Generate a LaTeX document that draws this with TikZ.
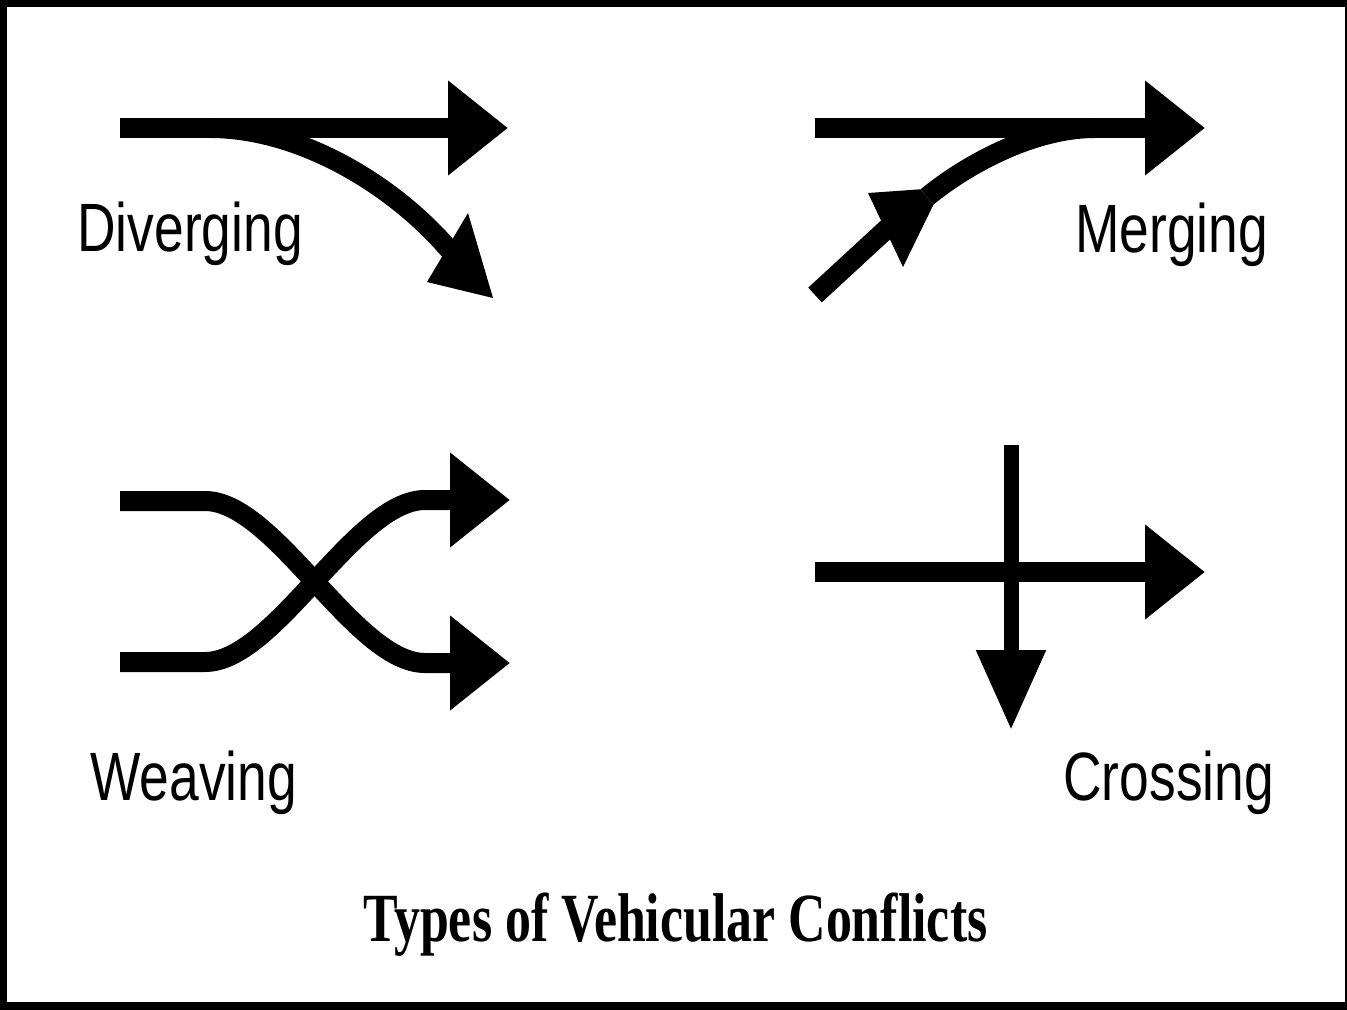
\documentclass[tikz,border=0pt]{standalone}
\usepackage{fontspec}
\setmainfont{Liberation Serif}
\setsansfont{Liberation Sans}
\usetikzlibrary{arrows.meta}
\newcommand{\condlabel}[1]{\scalebox{0.78}[1]{#1}}
\newcommand{\condtitle}[1]{\scalebox{0.752}[1]{#1}}
\begin{document}
\begin{tikzpicture}[x=0.5pt,y=-0.5pt,
  road/.style={line width=10pt},
  bigtip/.style={-{Triangle[length=30pt,width=45.5pt]}},
  downtip/.style={-{Triangle[length=40pt,width=33pt]}},
  head/.style={fill=black},
  lbl/.style={anchor=base west,inner sep=0pt,font=\sffamily\fontsize{34.2pt}{40pt}\selectfont},
  ttl/.style={anchor=base west,inner sep=0pt,font=\rmfamily\bfseries\fontsize{34.5pt}{40pt}\selectfont}]
\useasboundingbox (0,0) rectangle (1347,1010);
% frame
\fill[black] (0,0) rectangle (1347,1010);
\fill[white] (7,7) rectangle (1345,1002);

% Diverging
\coordinate (dA) at (120,128);
\coordinate (dB) at (508,128);
\coordinate (dC) at (210,128);
\coordinate (dD) at (452,253);
\coordinate (dH1) at (468,213);
\coordinate (dH2) at (493,298);
\coordinate (dH3) at (427,282);
\draw[road,bigtip] (dA) -- (dB);
\draw[road] (dC) .. controls (300,128) and (395,185) .. (dD);
\fill[head] (dH1) -- (dH2) -- (dH3) -- cycle;
\node[lbl] (diverging) at (77,252) {\condlabel{Diverging}};

% Merging
\coordinate (mA) at (815,128);
\coordinate (mB) at (1205,128);
\coordinate (mC) at (815,295);
\coordinate (mD) at (892,224);
\coordinate (mE) at (927,197);
\coordinate (mF) at (1095,128);
\coordinate (mH1) at (868,193);
\coordinate (mH2) at (920.6,189.3);
\coordinate (mH3) at (933.4,204.7);
\coordinate (mH4) at (903,267);
\draw[road,bigtip] (mA) -- (mB);
\draw[road] (mC) -- (mD);
\fill[head] (mH1) -- (mH2) -- (mH3) -- (mH4) -- cycle;
\draw[road] (mE) .. controls (962,168) and (1030,128) .. (mF);
\node[lbl] (merging) at (1075,253) {\condlabel{Merging}};

% Weaving
\coordinate (wA) at (120,501);
\coordinate (wB) at (205,501);
\coordinate (wC) at (425,663);
\coordinate (wD) at (510,663);
\coordinate (wE) at (120,662);
\coordinate (wF) at (205,662);
\coordinate (wG) at (425,500);
\coordinate (wH) at (510,500);
\draw[road,bigtip] (wA) -- (wB) .. controls (275,501) and (355,663) .. (wC) -- (wD);
\draw[road,bigtip] (wE) -- (wF) .. controls (275,662) and (355,500) .. (wG) -- (wH);
\node[lbl] (weaving) at (90,800) {\condlabel{Weaving}};

% Crossing
\coordinate (cA) at (815,572);
\coordinate (cB) at (1205,572);
\coordinate (cC) at (1011,445);
\coordinate (cD) at (1011,730);
\draw[road,bigtip] (cA) -- (cB);
\draw[line width=7.5pt,downtip] (cC) -- (cD);
\node[lbl] (crossing) at (1063,800) {\condlabel{Crossing}};

% Title
\node[ttl] (title) at (363,941) {\condtitle{Types of Vehicular Conflicts}};
\end{tikzpicture}
\end{document}
